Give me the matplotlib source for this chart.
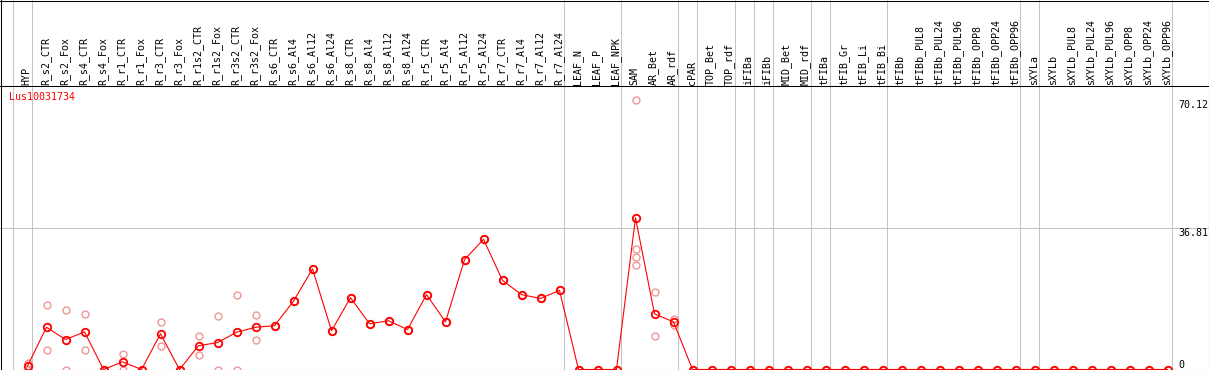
import matplotlib
matplotlib.use('Agg')
import matplotlib.pyplot as plt
from matplotlib.lines import Line2D

# ---------------- data ----------------
gene = "Lus10031734"
labels = ["HYP", "R_s2_CTR", "R_s2_Fox", "R_s4_CTR", "R_s4_Fox", "R_r1_CTR", "R_r1_Fox",
          "R_r3_CTR", "R_r3_Fox", "R_r1s2_CTR", "R_r1s2_Fox", "R_r3s2_CTR", "R_r3s2_Fox",
          "R_s6_CTR", "R_s6_Al4", "R_s6_Al12", "R_s6_Al24", "R_s8_CTR", "R_s8_Al4",
          "R_s8_Al12", "R_s8_Al24", "R_r5_CTR", "R_r5_Al4", "R_r5_Al12", "R_r5_Al24",
          "R_r7_CTR", "R_r7_Al4", "R_r7_Al12", "R_r7_Al24", "LEAF_N", "LEAF_P", "LEAF_NPK",
          "SAM", "AR_Bet", "AR_rdf", "cPAR", "TOP_Bet", "TOP_rdf", "iFIBa", "iFIBb",
          "MID_Bet", "MID_rdf", "tFIBa", "tFIB_Gr", "tFIB_Li", "tFIB_Bi", "tFIBb",
          "tFIBb_PUL8", "tFIBb_PUL24", "tFIBb_PUL96", "tFIBb_OPP8", "tFIBb_OPP24",
          "tFIBb_OPP96", "sXYLa", "sXYLb", "sXYLb_PUL8", "sXYLb_PUL24", "sXYLb_PUL96",
          "sXYLb_OPP8", "sXYLb_OPP24", "sXYLb_OPP96"]

mean_values = [0.9, 11.0, 7.8, 9.8, 0, 2.0, 0, 9.3, 0, 6.2, 7.0, 9.7, 11.0,
               11.4, 17.8, 26.2, 10.1, 18.7, 11.9, 12.7, 10.4, 19.5, 12.4, 28.6, 33.9,
               23.2, 19.5, 18.5, 20.6, 0, 0, 0,
               39.5, 14.5, 12.4] + [0] * 26

replicates = [[1.8, 0], [16.9, 5.1], [15.6, 0], [14.5, 5.2], [0, 0], [4.1, 0], [0, 0],
              [12.5, 6.0], [0, 0], [8.6, 3.8], [14.0, 0], [19.5, 0], [14.3, 7.8],
              [11.4, 11.4], [17.8, 17.8], [26.2, 26.2], [10.1, 10.1], [18.7, 18.7],
              [11.9, 11.9], [12.7, 12.7], [10.4, 10.4], [19.5, 19.5], [12.4, 12.4],
              [28.6, 28.6], [33.9, 33.9], [23.2, 23.2], [19.5, 19.5], [18.5, 18.5],
              [20.6, 20.6], [0, 0], [0, 0], [0, 0],
              [70.12, 31.5, 29.2, 27.1], [20.3, 8.7], [13.2, 11.5]] + [[0, 0]] * 26

group_ends = [-1, 0, 28, 31, 34, 35, 37, 38, 39, 41, 42, 45, 52, 53, 60]
ytick_values = [70.12, 36.81, 0]
hline_value = 36.81

# ---------------- layout ----------------
W, H, DPI = 1209, 370, 100
HEADER_ROW = 85
PXU = 3.84
COL0, STEP = 27.5, 19.0
MONO = "DejaVu Sans Mono"
FS = 7.2
GRID = "#c4c4c4"
RED = "#ff0000"
PINK = "#f09696"

fig = plt.figure(figsize=(W / DPI, H / DPI), dpi=DPI, facecolor="white")
plot_h = H - HEADER_ROW - 0.5
ax = fig.add_axes([0, 0, 1, plot_h / H])
axh = fig.add_axes([0, plot_h / H, 1, 1 - plot_h / H])

xlim = (-COL0 / STEP, (W - COL0) / STEP)
for a in (ax, axh):
    a.set_xlim(*xlim)
    a.set_axis_off()
ax.set_ylim(-0.5 / PXU, (plot_h - 0.5) / PXU)
axh.set_ylim(HEADER_ROW + 0.5, 0)

off = 4.0 / STEP
for k in group_ends:
    for a in (ax, axh):
        a.axvline(k + off, color=GRID, lw=0.75, zorder=1)
ax.axhline(hline_value, color=GRID, lw=0.75, zorder=1)

x = list(range(len(labels)))
rx, ry = [], []
for i, reps in enumerate(replicates):
    for r in reps:
        rx.append(i)
        ry.append(r)
ax.plot(rx, ry, ls="none", marker="o", ms=5.0, mfc="none", mec=PINK, mew=1.0, zorder=2)
ax.plot(x, mean_values, color=RED, lw=0.8, marker="o", ms=5.4, mfc="none",
        mec=RED, mew=1.3, zorder=3)

for i, lab in enumerate(labels):
    axh.text(i - 0.05, 84.6, lab, rotation=90, ha="center", va="bottom",
             family=MONO, fontsize=FS, color="black")

tx = (1178 - COL0) / STEP
for v in ytick_values:
    ax.text(tx, v, f"{v:g}" if v == 0 else f"{v:.2f}", ha="left",
            va="bottom" if v == 0 else "top", family=MONO, fontsize=FS, color="black")

fig.text(9.5 / W, 1 - 97.5 / H, gene, ha="left", va="center", family=MONO,
         fontsize=FS, color=RED)

# borders
def fline(x0, y0, x1, y1):
    fig.add_artist(Line2D([x0 / W, x1 / W], [y0 / H, y1 / H], color="black",
                          lw=0.75, transform=fig.transFigure))

fline(0.5, 0, 0.5, H)
fline(W - 0.5, 0, W - 0.5, H)
fline(0, H - 0.5, W, H - 0.5)
fline(0, 0.5, W, 0.5)
fline(0, H - HEADER_ROW - 0.5, W, H - HEADER_ROW - 0.5)

fig.savefig("out.png", dpi=DPI, facecolor="white")
